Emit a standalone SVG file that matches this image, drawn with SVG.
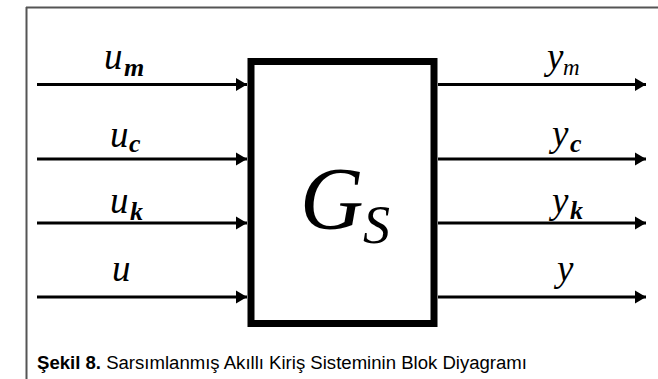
<svg xmlns="http://www.w3.org/2000/svg" width="658" height="379" viewBox="0 0 658 379">
<style>
.lbl{font-family:"Liberation Serif","Times New Roman",serif;font-style:italic;fill:#000}
.big{font-size:37px}
.sb{font-size:26px;font-weight:bold}
.sr{font-size:23px}
.conn{stroke:#000;stroke-width:3;fill:none}
.cap{font-family:"Liberation Sans",Arial,sans-serif;font-size:18px;fill:#000}
</style>
<defs>
<marker id="ah" markerUnits="userSpaceOnUse" markerWidth="12" markerHeight="14" refX="11" refY="7" orient="auto">
<path d="M0,0.5 L11,7 L0,13.5 z" fill="#000"/>
</marker>
</defs>
<rect width="658" height="379" fill="#fff"/>
<g id="frame" stroke="#555" stroke-width="2" fill="none">
<line x1="26" y1="7.5" x2="658" y2="7.5"/>
<line x1="26.5" y1="7" x2="26.5" y2="379"/>
</g>
<g id="connectors">
<line class="conn" x1="37" y1="84.5" x2="247" y2="84.5" marker-end="url(#ah)"/>
<line class="conn" x1="37" y1="159" x2="247" y2="159" marker-end="url(#ah)"/>
<line class="conn" x1="37" y1="223" x2="247" y2="223" marker-end="url(#ah)"/>
<line class="conn" x1="37" y1="297" x2="247" y2="297" marker-end="url(#ah)"/>
<line class="conn" x1="438" y1="84.5" x2="646" y2="84.5" marker-end="url(#ah)"/>
<line class="conn" x1="438" y1="159" x2="646" y2="159" marker-end="url(#ah)"/>
<line class="conn" x1="438" y1="223" x2="646" y2="223" marker-end="url(#ah)"/>
<line class="conn" x1="438" y1="297" x2="646" y2="297" marker-end="url(#ah)"/>
</g>
<g id="block">
<rect x="251" y="61.5" width="183" height="262" fill="none" stroke="#000" stroke-width="7"/>
<text class="lbl"><tspan x="300" y="228" font-size="88">G</tspan><tspan x="363" y="243" font-size="54">S</tspan></text>
</g>
<g id="inputs">
<text class="lbl"><tspan class="big" x="104" y="69">u</tspan><tspan class="sb" x="124" y="76">m</tspan></text>
<text class="lbl"><tspan class="big" x="110" y="147">u</tspan><tspan class="sb" x="129" y="152">c</tspan></text>
<text class="lbl"><tspan class="big" x="110" y="213">u</tspan><tspan class="sb" x="130" y="220">k</tspan></text>
<text class="lbl"><tspan class="big" x="112" y="281">u</tspan></text>
</g>
<g id="outputs">
<text class="lbl"><tspan class="big" x="547" y="69">y</tspan><tspan class="sr" x="563" y="75">m</tspan></text>
<text class="lbl"><tspan class="big" x="552" y="146">y</tspan><tspan class="sb" x="570" y="152">c</tspan></text>
<text class="lbl"><tspan class="big" x="552" y="213">y</tspan><tspan class="sb" x="570" y="219">k</tspan></text>
<text class="lbl"><tspan class="big" x="557" y="281">y</tspan></text>
</g>
<g id="caption">
<text class="cap" x="37" y="369" textLength="490" lengthAdjust="spacingAndGlyphs"><tspan font-weight="bold">Şekil 8.</tspan> Sarsımlanmış Akıllı Kiriş Sisteminin Blok Diyagramı</text>
</g>
</svg>
